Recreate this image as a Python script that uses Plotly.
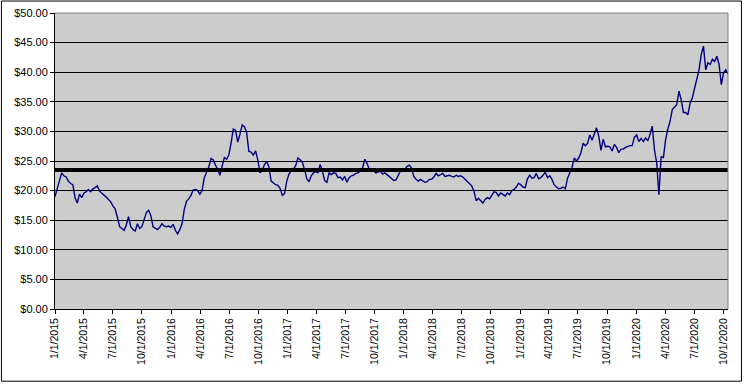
import pandas as pd
import plotly.graph_objects as go

# Weekly closing prices (first week 1/1/2015)
start_date = "2015-01-01"
prices = [
    19.0, 20.2, 21.8, 23.0, 22.5, 22.3, 21.6, 21.2, 21.0, 18.8, 17.9, 19.4, 18.8,
    19.6, 19.8, 20.2, 19.8, 20.3, 20.5, 20.8, 19.9, 19.6, 19.3, 18.9, 18.5, 18.1,
    17.4, 16.9, 15.5, 13.9, 13.6, 13.3, 14.2, 15.6, 13.9, 13.4, 13.2, 14.4, 13.6,
    13.9, 15.1, 16.3, 16.7, 15.8, 13.9, 13.6, 13.4, 13.8, 14.4, 14.0, 13.9, 14.0,
    13.8, 14.3, 13.3, 12.7, 13.4, 14.4, 16.8, 18.2, 18.6, 19.2, 20.1, 20.2, 20.0,
    19.4, 20.0, 22.2, 23.0, 24.0, 25.4, 25.2, 24.3, 23.6, 22.6, 24.0, 25.6, 25.3,
    26.0, 28.0, 30.4, 30.2, 28.2, 29.5, 31.1, 30.8, 29.8, 26.6, 26.5, 26.0, 26.7,
    25.2, 23.0, 23.4, 24.4, 24.9, 24.0, 21.6, 21.3, 21.0, 20.9, 20.4, 19.2, 19.5,
    21.6, 22.8, 23.3, 23.6, 24.2, 25.5, 25.2, 24.8, 23.5, 22.0, 21.5, 22.5, 23.0,
    23.2, 23.0, 24.4, 23.3, 21.7, 21.4, 23.0, 22.7, 23.0, 22.9, 22.2, 22.3, 21.8,
    22.4, 21.4, 22.2, 22.5, 22.6, 22.9, 23.0, 23.3, 23.8, 25.3, 24.6, 23.6, 23.4,
    23.3, 23.0, 23.1, 23.3, 22.8, 23.0, 22.7, 22.4, 22.1, 21.7, 21.8, 22.7, 23.3,
    23.5, 23.6, 24.1, 24.3, 23.8, 22.4, 21.9, 21.6, 21.9, 21.6, 21.4, 21.5, 21.9,
    21.9, 22.3, 22.9, 22.5, 22.7, 22.9, 22.4, 22.5, 22.6, 22.4, 22.3, 22.6, 22.4,
    22.5, 22.3, 21.9, 21.5, 21.2, 20.8, 19.9, 18.3, 18.7, 18.3, 17.9, 18.5, 18.8,
    18.6, 19.3, 19.8, 19.7, 19.1, 19.6, 19.3, 19.1, 19.6, 19.3, 20.0, 20.2, 20.6,
    21.2, 21.0, 20.6, 20.5, 22.0, 22.6, 22.1, 22.2, 22.9, 22.0, 22.2, 22.6, 23.1,
    22.2, 22.5, 21.9, 21.0, 20.6, 20.3, 20.4, 20.6, 20.3, 22.1, 23.0, 23.9, 25.5,
    25.0, 25.5, 26.4, 28.0, 27.6, 28.0, 29.4, 28.5, 29.5, 30.6, 29.2, 26.8, 28.7,
    27.4, 27.5, 27.4, 26.7, 27.8, 27.3, 26.4, 27.0, 27.0, 27.3, 27.5, 27.6, 27.6,
    29.0, 29.4, 28.3, 28.8, 28.3, 28.9, 28.4, 29.5, 30.9, 26.9, 24.7, 19.3, 25.8,
    25.5, 28.6, 30.4, 31.7, 33.7, 34.1, 34.5, 36.8, 35.3, 33.2, 33.2, 32.8, 34.8,
    35.7, 37.3, 38.9, 40.4, 43.0, 44.4, 40.4, 41.6, 41.3, 42.2, 41.8, 42.7, 41.3,
    37.9, 39.9, 40.4, 39.7,
]
average_price = 23.48

dates = pd.date_range(start=start_date, periods=len(prices), freq="7D")

fig = go.Figure()
fig.add_trace(go.Scatter(
    x=dates, y=prices, mode="lines",
    line=dict(color="#000080", width=1.4),
    hoverinfo="skip",
))
fig.add_trace(go.Scatter(
    x=[dates[0], dates[-1]], y=[average_price, average_price], mode="lines",
    line=dict(color="#000000", width=4),
    hoverinfo="skip",
))

font_family = "Arial, 'Liberation Sans', sans-serif"

fig.update_layout(
    width=745, height=384,
    margin=dict(l=55, r=17, t=13, b=75, autoexpand=False),
    paper_bgcolor="#FFFFFF",
    plot_bgcolor="#CCCCCC",
    showlegend=False,
    font=dict(family=font_family, size=11, color="#000000"),
    xaxis=dict(
        type="date",
        range=[dates[0], dates[-1]],
        tick0=start_date, dtick="M3",
        tickformat="%-m/%-d/%Y",
        tickangle=-90,
        ticks="outside", ticklen=4, tickcolor="#000000", tickwidth=1,
        showgrid=False, zeroline=False,
        showline=True, linecolor="#000000", linewidth=1,
        tickfont=dict(size=10.5, family=font_family, color="#000000"),
        automargin=False,
    ),
    yaxis=dict(
        range=[0, 50], dtick=5, tick0=0,
        tickprefix="$", tickformat=".2f",
        ticks="outside", ticklen=4, tickcolor="#000000", tickwidth=1,
        showgrid=True, gridcolor="#000000", gridwidth=1,
        zeroline=False,
        showline=True, linecolor="#000000", linewidth=1,
        tickfont=dict(size=11, family=font_family, color="#000000"),
        automargin=False,
    ),
    shapes=[
        # plot-area border (top and right), gray
        dict(type="line", xref="paper", yref="paper", x0=0, x1=1, y0=1, y1=1,
             line=dict(color="#808080", width=1), layer="above"),
        dict(type="line", xref="paper", yref="paper", x0=1, x1=1, y0=0, y1=1,
             line=dict(color="#808080", width=1), layer="above"),
        # outer chart border
        dict(type="rect", xref="paper", yref="paper",
             x0=-0.0796, x1=1.0200, y0=-0.2439, y1=1.0404,
             line=dict(color="#000000", width=1), layer="above"),
    ],
)

fig.write_html(
    "out.html",
    config={"displayModeBar": False, "staticPlot": True},
    post_script="document.body.style.margin='0';document.body.style.padding='0';",
)
